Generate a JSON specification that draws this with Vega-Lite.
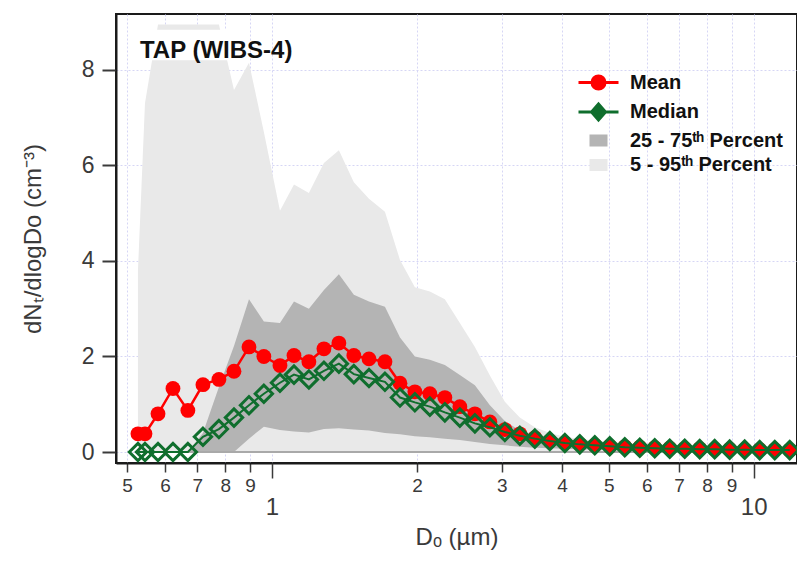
{
  "$schema": "https://vega.github.io/schema/vega-lite/v6.json",
  "width": 681,
  "height": 449,
  "autosize": {"type": "none"},
  "padding": {"left": 116, "top": 14, "right": 0, "bottom": 98},
  "background": "white",
  "config": {
    "view": {"stroke": "#1a1a1a", "strokeWidth": 2},
    "font": "Liberation Sans",
    "axis": {
      "labelFont": "Liberation Sans",
      "titleFont": "Liberation Sans",
      "labelColor": "#3a3a3a",
      "titleColor": "#3a3a3a",
      "tickColor": "#3a3a3a",
      "domainColor": "#1a1a1a",
      "gridColor": "#d6d6f5",
      "gridDash": [2, 2],
      "gridWidth": 1
    },
    "legend": {
      "orient": "none", "legendX": 471, "legendY": 57, "padding": 0,
      "labelFont": "Liberation Sans", "labelFontSize": 20, "labelFontWeight": "bold",
      "labelColor": "#111111", "labelOffset": 20, "labelLimit": 400,
      "rowPadding": 2.5, "symbolSize": 400, "symbolStrokeWidth": 3, "symbolOpacity": 1
    }
  },
  "data": {
    "values": [
      {"d": 0.527, "mean": 0.38, "median": 0, "p5": 0, "p25": 0, "p75": 0, "p95": 3.8},
      {"d": 0.545, "mean": 0.38, "median": 0, "p5": 0, "p25": 0, "p75": 0, "p95": 7.3},
      {"d": 0.58, "mean": 0.8, "median": 0, "p5": 0, "p25": 0, "p75": 0, "p95": 8.95},
      {"d": 0.623, "mean": 1.33, "median": 0, "p5": 0, "p25": 0, "p75": 0, "p95": 8.95},
      {"d": 0.669, "mean": 0.87, "median": 0, "p5": 0, "p25": 0, "p75": 0, "p95": 8.95},
      {"d": 0.719, "mean": 1.41, "median": 0.32, "p5": 0, "p25": 0, "p75": 0.4, "p95": 8.95},
      {"d": 0.776, "mean": 1.52, "median": 0.48, "p5": 0, "p25": 0, "p75": 1.36, "p95": 8.95},
      {"d": 0.834, "mean": 1.69, "median": 0.72, "p5": 0, "p25": 0, "p75": 2.22, "p95": 7.58},
      {"d": 0.896, "mean": 2.2, "median": 0.98, "p5": 0, "p25": 0.28, "p75": 3.2, "p95": 8.15},
      {"d": 0.962, "mean": 2.0, "median": 1.22, "p5": 0, "p25": 0.53, "p75": 2.73, "p95": 6.7},
      {"d": 1.039, "mean": 1.81, "median": 1.45, "p5": 0, "p25": 0.46, "p75": 2.7, "p95": 5.05},
      {"d": 1.111, "mean": 2.02, "median": 1.62, "p5": 0, "p25": 0.43, "p75": 3.15, "p95": 5.6},
      {"d": 1.193, "mean": 1.89, "median": 1.52, "p5": 0, "p25": 0.41, "p75": 3.0, "p95": 5.42},
      {"d": 1.282, "mean": 2.16, "median": 1.7, "p5": 0, "p25": 0.48, "p75": 3.39, "p95": 6.05},
      {"d": 1.377, "mean": 2.28, "median": 1.85, "p5": 0, "p25": 0.5, "p75": 3.72, "p95": 6.32},
      {"d": 1.479, "mean": 2.02, "median": 1.63, "p5": 0, "p25": 0.47, "p75": 3.29, "p95": 5.65},
      {"d": 1.59, "mean": 1.95, "median": 1.55, "p5": 0, "p25": 0.45, "p75": 3.15, "p95": 5.3},
      {"d": 1.716, "mean": 1.89, "median": 1.47, "p5": 0, "p25": 0.4, "p75": 3.04, "p95": 5.03},
      {"d": 1.844, "mean": 1.44, "median": 1.14, "p5": 0, "p25": 0.37, "p75": 2.4, "p95": 4.02},
      {"d": 1.98, "mean": 1.26, "median": 1.04, "p5": 0, "p25": 0.33, "p75": 2.0, "p95": 3.45},
      {"d": 2.127, "mean": 1.22, "median": 0.95, "p5": 0, "p25": 0.31, "p75": 1.93, "p95": 3.36},
      {"d": 2.285, "mean": 1.14, "median": 0.83, "p5": 0, "p25": 0.28, "p75": 1.82, "p95": 3.2},
      {"d": 2.455, "mean": 0.95, "median": 0.72, "p5": 0, "p25": 0.25, "p75": 1.61, "p95": 2.7},
      {"d": 2.638, "mean": 0.8, "median": 0.6, "p5": 0, "p25": 0.21, "p75": 1.4, "p95": 2.2},
      {"d": 2.834, "mean": 0.63, "median": 0.52, "p5": 0, "p25": 0.17, "p75": 0.98, "p95": 1.6},
      {"d": 3.044, "mean": 0.47, "median": 0.42, "p5": 0, "p25": 0.14, "p75": 0.65, "p95": 1.05},
      {"d": 3.27, "mean": 0.38, "median": 0.34, "p5": 0, "p25": 0.11, "p75": 0.45, "p95": 0.72},
      {"d": 3.513, "mean": 0.3, "median": 0.28, "p5": 0, "p25": 0.09, "p75": 0.32, "p95": 0.52},
      {"d": 3.774, "mean": 0.23, "median": 0.23, "p5": 0, "p25": 0.08, "p75": 0.25, "p95": 0.4},
      {"d": 4.055, "mean": 0.19, "median": 0.19, "p5": 0, "p25": 0.07, "p75": 0.21, "p95": 0.32},
      {"d": 4.355, "mean": 0.16, "median": 0.16, "p5": 0, "p25": 0.06, "p75": 0.18, "p95": 0.27},
      {"d": 4.679, "mean": 0.14, "median": 0.14, "p5": 0, "p25": 0.05, "p75": 0.15, "p95": 0.24},
      {"d": 5.026, "mean": 0.12, "median": 0.12, "p5": 0, "p25": 0.05, "p75": 0.13, "p95": 0.21},
      {"d": 5.4, "mean": 0.11, "median": 0.1, "p5": 0, "p25": 0.04, "p75": 0.12, "p95": 0.19},
      {"d": 5.801, "mean": 0.1, "median": 0.09, "p5": 0, "p25": 0.04, "p75": 0.11, "p95": 0.17},
      {"d": 6.231, "mean": 0.09, "median": 0.08, "p5": 0, "p25": 0.03, "p75": 0.1, "p95": 0.16},
      {"d": 6.694, "mean": 0.08, "median": 0.07, "p5": 0, "p25": 0.03, "p75": 0.09, "p95": 0.15},
      {"d": 7.192, "mean": 0.07, "median": 0.07, "p5": 0, "p25": 0.03, "p75": 0.08, "p95": 0.14},
      {"d": 7.726, "mean": 0.07, "median": 0.06, "p5": 0, "p25": 0.02, "p75": 0.08, "p95": 0.13},
      {"d": 8.299, "mean": 0.06, "median": 0.06, "p5": 0, "p25": 0.02, "p75": 0.07, "p95": 0.12},
      {"d": 8.915, "mean": 0.06, "median": 0.05, "p5": 0, "p25": 0.02, "p75": 0.07, "p95": 0.12},
      {"d": 9.579, "mean": 0.05, "median": 0.05, "p5": 0, "p25": 0.02, "p75": 0.06, "p95": 0.11},
      {"d": 10.29, "mean": 0.05, "median": 0.04, "p5": 0, "p25": 0.02, "p75": 0.06, "p95": 0.1},
      {"d": 11.06, "mean": 0.05, "median": 0.04, "p5": 0, "p25": 0.02, "p75": 0.06, "p95": 0.1},
      {"d": 11.88, "mean": 0.04, "median": 0.04, "p5": 0, "p25": 0.02, "p75": 0.05, "p95": 0.1}
    ]
  },
  "layer": [
    {
      "transform": [{"filter": "false"}],
      "mark": {"type": "point", "filled": true, "opacity": 1},
      "encoding": {
        "x": {"field": "d", "type": "quantitative", "scale": {"type": "log", "domain": [0.4745, 12.3], "nice": false}, "axis": null},
        "y": {
          "field": "mean", "type": "quantitative",
          "scale": {"domain": [-0.23, 9.17], "nice": false, "zero": false},
          "axis": {"values": [0, 2, 4, 6, 8], "format": "d", "title": "dNₜ/dlogDo (cm⁻³)", "titleFontSize": 24, "titleFontWeight": "normal", "titlePadding": 36, "labelFontSize": 23, "tickSize": 14, "tickWidth": 2, "labelPadding": 8, "domainWidth": 2, "grid": true}
        },
        "color": {
          "datum": "Mean", "type": "nominal",
          "scale": {
            "domain": ["Mean", "Median", "25 - 75ᵗʰ Percent", "5 - 95ᵗʰ Percent"],
            "range": ["#ff0000", "#0f6e2d", "#b4b4b4", "#e9e9e9"]
          },
          "legend": {"title": null}
        },
        "shape": {
          "datum": "Mean", "type": "nominal",
          "scale": {
            "domain": ["Mean", "Median", "25 - 75ᵗʰ Percent", "5 - 95ᵗʰ Percent"],
            "range": [
              "M-2,0H2M0.65,0A0.65,0.65 0 1,1 -0.65,0A0.65,0.65 0 1,1 0.65,0Z",
              "M-2,0H2M0,-0.8L0.7,0L0,0.8L-0.7,0Z",
              "M-0.75,-0.45H0.75V0.45H-0.75Z",
              "M-0.75,-0.45H0.75V0.45H-0.75Z"
            ]
          },
          "legend": {"title": null}
        }
      }
    },
    {
      "mark": {"type": "area", "opacity": 1, "clip": true},
      "encoding": {
        "x": {
          "field": "d", "type": "quantitative",
          "scale": {"type": "log", "domain": [0.4745, 12.3], "nice": false},
          "axis": {
            "orient": "bottom",
            "values": [0.5, 0.6, 0.7, 0.8, 0.9, 2, 3, 4, 5, 6, 7, 8, 9],
            "labelExpr": "datum.value < 1 ? '' + round(datum.value * 10) : '' + round(datum.value)",
            "tickSize": 9, "tickWidth": 1.5, "labelFontSize": 19, "labelPadding": 4,
            "domainWidth": 2, "grid": true, "title": null,
            "labelOverlap": false, "labelFlush": false
          }
        },
        "y": {
          "field": "p5", "type": "quantitative",
          "scale": {"domain": [-0.23, 9.17], "nice": false, "zero": false},
          "axis": {"values": [0, 2, 4, 6, 8], "format": "d", "title": "dNₜ/dlogDo (cm⁻³)", "titleFontSize": 24, "titleFontWeight": "normal", "titlePadding": 36, "labelFontSize": 23, "tickSize": 14, "tickWidth": 2, "labelPadding": 8, "domainWidth": 2, "grid": true}
        },
        "y2": {"field": "p95"},
        "color": {"datum": "5 - 95ᵗʰ Percent", "type": "nominal", "legend": {"title": null}}
      }
    },
    {
      "mark": {"type": "area", "opacity": 1, "clip": true},
      "encoding": {
        "x": {
          "field": "d", "type": "quantitative",
          "scale": {"type": "log", "domain": [0.4745, 12.3], "nice": false},
          "axis": {
            "orient": "bottom",
            "values": [1, 10], "format": "d",
            "tickSize": 15, "tickWidth": 1.5, "labelFontSize": 24, "labelPadding": 17,
            "domain": false, "grid": true,
            "title": "Dₒ (µm)", "titleFontSize": 24, "titleFontWeight": "normal",
            "titlePadding": 6, "labelOverlap": false, "labelFlush": false
          }
        },
        "y": {
          "field": "p25", "type": "quantitative",
          "scale": {"domain": [-0.23, 9.17], "nice": false, "zero": false},
          "axis": {"values": [0, 2, 4, 6, 8], "format": "d", "title": "dNₜ/dlogDo (cm⁻³)", "titleFontSize": 24, "titleFontWeight": "normal", "titlePadding": 36, "labelFontSize": 23, "tickSize": 14, "tickWidth": 2, "labelPadding": 8, "domainWidth": 2, "grid": true}
        },
        "y2": {"field": "p75"},
        "color": {"datum": "25 - 75ᵗʰ Percent", "type": "nominal", "legend": {"title": null}}
      }
    },
    {
      "mark": {"type": "line", "color": "#a9a9a9", "strokeWidth": 2, "clip": true},
      "encoding": {
        "x": {"field": "d", "type": "quantitative", "scale": {"type": "log", "domain": [0.4745, 12.3], "nice": false}, "axis": null},
        "y": {
          "field": "p5", "type": "quantitative",
          "scale": {"domain": [-0.23, 9.17], "nice": false, "zero": false},
          "axis": {"values": [0, 2, 4, 6, 8], "format": "d", "title": "dNₜ/dlogDo (cm⁻³)", "titleFontSize": 24, "titleFontWeight": "normal", "titlePadding": 36, "labelFontSize": 23, "tickSize": 14, "tickWidth": 2, "labelPadding": 8, "domainWidth": 2, "grid": true}
        }
      }
    },
    {
      "data": {"values": [{"label": "TAP (WIBS-4)"}]},
      "mark": {"type": "rect", "color": "white", "clip": true},
      "encoding": {
        "x": {"datum": 0.55, "type": "quantitative", "scale": {"type": "log", "domain": [0.4745, 12.3], "nice": false}, "axis": null},
        "x2": {"datum": 0.86},
        "y": {
          "datum": 8.2, "type": "quantitative",
          "scale": {"domain": [-0.23, 9.17], "nice": false, "zero": false},
          "axis": {"values": [0, 2, 4, 6, 8], "format": "d", "title": "dNₜ/dlogDo (cm⁻³)", "titleFontSize": 24, "titleFontWeight": "normal", "titlePadding": 36, "labelFontSize": 23, "tickSize": 14, "tickWidth": 2, "labelPadding": 8, "domainWidth": 2, "grid": true}
        },
        "y2": {"datum": 8.84}
      }
    },
    {
      "mark": {"type": "line", "strokeWidth": 2.5, "clip": true},
      "encoding": {
        "x": {"field": "d", "type": "quantitative", "scale": {"type": "log", "domain": [0.4745, 12.3], "nice": false}, "axis": null},
        "y": {
          "field": "mean", "type": "quantitative",
          "scale": {"domain": [-0.23, 9.17], "nice": false, "zero": false},
          "axis": {"values": [0, 2, 4, 6, 8], "format": "d", "title": "dNₜ/dlogDo (cm⁻³)", "titleFontSize": 24, "titleFontWeight": "normal", "titlePadding": 36, "labelFontSize": 23, "tickSize": 14, "tickWidth": 2, "labelPadding": 8, "domainWidth": 2, "grid": true}
        },
        "color": {"datum": "Mean", "type": "nominal", "legend": {"title": null}}
      }
    },
    {
      "mark": {"type": "point", "shape": "circle", "filled": true, "size": 220, "opacity": 1, "clip": true},
      "encoding": {
        "x": {"field": "d", "type": "quantitative", "scale": {"type": "log", "domain": [0.4745, 12.3], "nice": false}, "axis": null},
        "y": {
          "field": "mean", "type": "quantitative",
          "scale": {"domain": [-0.23, 9.17], "nice": false, "zero": false},
          "axis": {"values": [0, 2, 4, 6, 8], "format": "d", "title": "dNₜ/dlogDo (cm⁻³)", "titleFontSize": 24, "titleFontWeight": "normal", "titlePadding": 36, "labelFontSize": 23, "tickSize": 14, "tickWidth": 2, "labelPadding": 8, "domainWidth": 2, "grid": true}
        },
        "color": {"datum": "Mean", "type": "nominal", "legend": {"title": null}}
      }
    },
    {
      "mark": {"type": "line", "strokeWidth": 2, "clip": true},
      "encoding": {
        "x": {"field": "d", "type": "quantitative", "scale": {"type": "log", "domain": [0.4745, 12.3], "nice": false}, "axis": null},
        "y": {
          "field": "median", "type": "quantitative",
          "scale": {"domain": [-0.23, 9.17], "nice": false, "zero": false},
          "axis": {"values": [0, 2, 4, 6, 8], "format": "d", "title": "dNₜ/dlogDo (cm⁻³)", "titleFontSize": 24, "titleFontWeight": "normal", "titlePadding": 36, "labelFontSize": 23, "tickSize": 14, "tickWidth": 2, "labelPadding": 8, "domainWidth": 2, "grid": true}
        },
        "color": {"datum": "Median", "type": "nominal", "legend": {"title": null}}
      }
    },
    {
      "mark": {"type": "point", "shape": "diamond", "filled": false, "size": 300, "strokeWidth": 3, "opacity": 1, "clip": true},
      "encoding": {
        "x": {"field": "d", "type": "quantitative", "scale": {"type": "log", "domain": [0.4745, 12.3], "nice": false}, "axis": null},
        "y": {
          "field": "median", "type": "quantitative",
          "scale": {"domain": [-0.23, 9.17], "nice": false, "zero": false},
          "axis": {"values": [0, 2, 4, 6, 8], "format": "d", "title": "dNₜ/dlogDo (cm⁻³)", "titleFontSize": 24, "titleFontWeight": "normal", "titlePadding": 36, "labelFontSize": 23, "tickSize": 14, "tickWidth": 2, "labelPadding": 8, "domainWidth": 2, "grid": true}
        },
        "color": {"datum": "Median", "type": "nominal", "legend": {"title": null}}
      }
    },
    {
      "data": {"values": [{"label": "TAP (WIBS-4)"}]},
      "mark": {"type": "text", "align": "left", "baseline": "alphabetic", "font": "Liberation Sans", "fontSize": 24, "fontWeight": "bold", "fill": "#111111"},
      "encoding": {
        "text": {"field": "label"},
        "x": {"datum": 0.532, "type": "quantitative", "scale": {"type": "log", "domain": [0.4745, 12.3], "nice": false}, "axis": null},
        "y": {
          "datum": 8.25, "type": "quantitative",
          "scale": {"domain": [-0.23, 9.17], "nice": false, "zero": false},
          "axis": {"values": [0, 2, 4, 6, 8], "format": "d", "title": "dNₜ/dlogDo (cm⁻³)", "titleFontSize": 24, "titleFontWeight": "normal", "titlePadding": 36, "labelFontSize": 23, "tickSize": 14, "tickWidth": 2, "labelPadding": 8, "domainWidth": 2, "grid": true}
        }
      }
    }
  ],
  "resolve": {"axis": {"x": "independent"}}
}
